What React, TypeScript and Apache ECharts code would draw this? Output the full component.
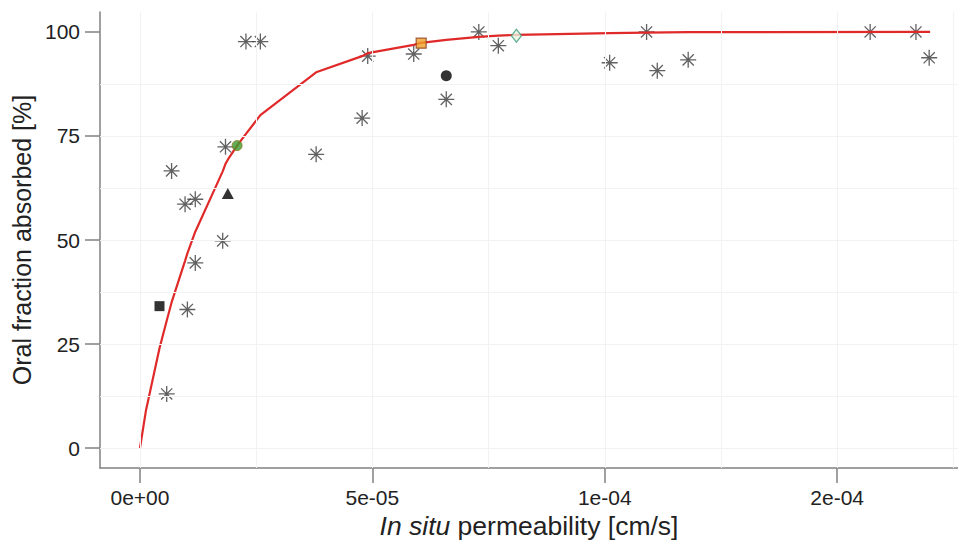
import React, { useEffect, useRef } from "react";
import * as echarts from "echarts";

// ---- data (permeability in cm/s, fraction absorbed in %) ----
const ASTERISK_PERM = [
  5.75e-6, 6.8e-6, 9.7e-6, 1.19e-5, 1.19e-5, 1.02e-5, 1.78e-5, 1.84e-5, 2.28e-5, 2.59e-5,
  3.79e-5, 4.78e-5, 4.9e-5, 5.89e-5, 6.59e-5, 7.29e-5, 7.71e-5, 1.021e-4, 1.18e-4, 1.226e-4,
  1.359e-4, 2.142e-4, 2.339e-4, 2.396e-4,
];
const ASTERISK_FA = [
  13.0, 66.6, 58.6, 59.8, 44.5, 33.3, 49.8, 72.4, 97.7, 97.7,
  70.6, 79.3, 94.2, 94.7, 83.8, 100, 96.7, 92.6, 100, 90.7,
  93.3, 100, 100, 93.8,
];

const SQUARE_BLACK = [4.2e-6, 34.1];
const TRIANGLE_BLACK = [1.89e-5, 61.2];
const CIRCLE_GREEN = [2.09e-5, 72.7];
const SQUARE_ORANGE = [6.05e-5, 97.3];
const CIRCLE_BLACK = [6.59e-5, 89.5];
const DIAMOND_GREEN = [8.1e-5, 99.1];

const CURVE_PERM = [
  0, 1.3e-6, 4.2e-6, 5.75e-6, 6.8e-6, 9.7e-6, 1.02e-5, 1.19e-5, 1.78e-5, 1.84e-5, 1.89e-5,
  2.09e-5, 2.28e-5, 2.59e-5, 3.79e-5, 4.78e-5, 4.9e-5, 5.89e-5, 6.05e-5, 6.59e-5, 7.29e-5,
  7.71e-5, 8.1e-5, 1.021e-4, 1.18e-4, 1.359e-4, 2.4e-4,
];
const CURVE_FA = [
  0, 9.1, 24, 30.6, 35, 45, 46.8, 52, 66.5, 68.3, 69.3,
  72.7, 75.5, 80, 90.3, 94.2, 94.9, 96.9, 97.4, 98.1, 98.8,
  99.1, 99.3, 99.7, 99.85, 99.95, 100,
];

const X_TICK_VALUES = [0, 5e-5, 1e-4, 2e-4];
const X_TICK_LABELS = ["0e+00", "5e-05", "1e-04", "2e-04"];
const Y_TICK_VALUES = [0, 25, 50, 75, 100];
const X_GRID_VALUES = [0, 2.5e-5, 5e-5, 7.5e-5, 1e-4, 1.5e-4, 2e-4, 2.5e-4];
const Y_GRID_VALUES = [0, 12.5, 25, 37.5, 50, 62.5, 75, 87.5];

// the axis is drawn in evenly spaced tick units (0, 5e-05, 1e-04, 2e-04)
function toU(x: number): number {
  return x <= 1e-4 ? x / 5e-5 : 2 + (x - 1e-4) / 1e-4;
}

const pair = (p: number[]) => [toU(p[0]), p[1]];

const ASTERISK_PATH =
  "path://M10,0L10,20M0,10L20,10M3,3L17,17M3,17L17,3";

export default function App() {
  const ref = useRef<HTMLDivElement>(null);
  useEffect(() => {
    if (!ref.current) return;
    const chart = echarts.init(ref.current, null, { renderer: "svg" });
    const font = "Liberation Sans, Arial, sans-serif";
    const axisGray = "#808080";
    const labelColor = "#222";

    const gridLines: any[] = [];
    X_GRID_VALUES.forEach((v) => gridLines.push({ xAxis: toU(v) }));
    Y_GRID_VALUES.forEach((v) => gridLines.push({ yAxis: v }));

    const option: any = {
      animation: false,
      backgroundColor: "#ffffff",
      grid: {
        left: 100,
        right: 0,
        top: 12,
        bottom: 73,
        containLabel: false,
        outerBoundsMode: "none",
      },
      xAxis: {
        type: "value",
        min: -0.172,
        max: 3.52,
        name: "{i|In situ} permeability [cm/s]",
        nameLocation: "middle",
        nameGap: 31,
        nameTextStyle: {
          fontFamily: font,
          fontSize: 26.5,
          color: labelColor,
          rich: {
            i: { fontFamily: font, fontSize: 26.5, fontStyle: "italic", color: labelColor },
          },
        },
        axisLine: { show: true, onZero: false, lineStyle: { color: axisGray, width: 1.5 } },
        axisTick: {
          show: true,
          length: 15,
          inside: false,
          customValues: X_TICK_VALUES.map(toU),
          lineStyle: { color: axisGray, width: 1.5 },
        },
        axisLabel: {
          customValues: X_TICK_VALUES.map(toU),
          margin: 19,
          fontFamily: font,
          fontSize: 21,
          color: labelColor,
          formatter: (v: number) => {
            const i = X_TICK_VALUES.map(toU).findIndex((u) => Math.abs(u - v) < 1e-9);
            return i >= 0 ? X_TICK_LABELS[i] : "";
          },
        },
        splitLine: { show: false },
      },
      yAxis: {
        type: "value",
        min: -4.8,
        max: 104.8,
        name: "Oral fraction absorbed [%]",
        nameLocation: "middle",
        nameGap: 65,
        nameTextStyle: { fontFamily: font, fontSize: 25, color: labelColor },
        axisLine: { show: true, onZero: false, lineStyle: { color: axisGray, width: 1.5 } },
        axisTick: {
          show: true,
          length: 15,
          customValues: Y_TICK_VALUES,
          lineStyle: { color: axisGray, width: 1.5 },
        },
        axisLabel: {
          customValues: Y_TICK_VALUES,
          margin: 20,
          fontFamily: font,
          fontSize: 21,
          color: labelColor,
        },
        splitLine: { show: false },
      },
      series: [
        {
          type: "line",
          data: [],
          silent: true,
          z: 0,
          markLine: {
            silent: true,
            symbol: "none",
            label: { show: false },
            lineStyle: { color: "#f2f2f2", width: 1, type: "solid" },
            data: gridLines,
          },
        },
        {
          type: "scatter",
          symbol: ASTERISK_PATH,
          symbolSize: 16,
          itemStyle: { color: "transparent", borderColor: "#3a3a3a", borderWidth: 1.3 },
          data: ASTERISK_PERM.map((p, i) => [toU(p), ASTERISK_FA[i]]),
          z: 3,
        },
        {
          type: "line",
          data: CURVE_PERM.map((p, i) => [toU(p), CURVE_FA[i]]),
          showSymbol: false,
          symbol: "none",
          lineStyle: { color: "#e02a2a", width: 2.2 },
          z: 4,
        },
        {
          type: "scatter",
          symbol: "rect",
          symbolSize: 10,
          itemStyle: { color: "#000" },
          data: [pair(SQUARE_BLACK)],
          z: 5,
        },
        {
          type: "scatter",
          symbol: "triangle",
          symbolSize: [12, 11],
          itemStyle: { color: "#000" },
          data: [pair(TRIANGLE_BLACK)],
          z: 5,
        },
        {
          type: "scatter",
          symbol: "circle",
          symbolSize: 10,
          itemStyle: { color: "#3f9a2e", borderColor: "#8a7a20", borderWidth: 1 },
          data: [pair(CIRCLE_GREEN)],
          z: 5,
        },
        {
          type: "scatter",
          symbol: "rect",
          symbolSize: 10,
          itemStyle: { color: "#f0a028", borderColor: "#8b3a1a", borderWidth: 1.2 },
          data: [pair(SQUARE_ORANGE)],
          z: 5,
        },
        {
          type: "scatter",
          symbol: "circle",
          symbolSize: 11,
          itemStyle: { color: "#000" },
          data: [pair(CIRCLE_BLACK)],
          z: 5,
        },
        {
          type: "scatter",
          symbol: "diamond",
          symbolSize: [10, 13],
          itemStyle: { color: "#e8f2e0", borderColor: "#3a9a78", borderWidth: 1.3 },
          data: [pair(DIAMOND_GREEN)],
          z: 5,
        },
      ],
    };
    chart.setOption(option);
    return () => chart.dispose();
  }, []);

  return (
    <div
      ref={ref}
      style={{ position: "fixed", left: 0, top: 0, width: 958, height: 541, background: "#fff" }}
    />
  );
}
